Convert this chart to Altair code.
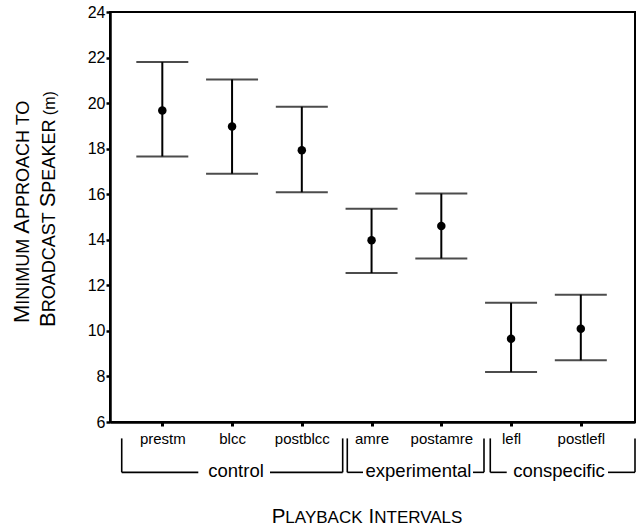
import altair as alt
import pandas as pd

# ---------------- data ----------------
categories = ["prestm", "blcc", "postblcc", "amre", "postamre", "lefl", "postlefl"]
means = [19.68, 18.97, 17.93, 13.98, 14.60, 9.65, 10.09]
upper = [21.80, 21.04, 19.84, 15.36, 16.03, 11.23, 11.59]
lower = [17.66, 16.90, 16.09, 12.54, 13.18, 8.19, 8.71]
y_ticks = [6, 8, 10, 12, 14, 16, 18, 20, 22, 24]

group_names = ["control", "experimental", "conspecific"]
group_label_pos = [1.057, 3.673, 5.687]
bracket_vert_x = [-0.582, 2.586, 2.652, 4.612, 4.702, 6.777]
bracket_seg_x1 = [-0.582, 1.544, 2.652, 4.454, 4.702, 6.390]
bracket_seg_x2 = [0.516, 2.586, 2.877, 4.612, 4.938, 6.777]
bracket_top = 5.28
bracket_bottom = 3.79
group_label_y = 3.57

FONT = "Liberation Sans"

df = pd.DataFrame({"idx": list(range(len(categories))), "cat": categories,
                   "mean": means, "lo": lower, "hi": upper})
df_v = pd.DataFrame({"bx": bracket_vert_x,
                     "btop": [bracket_top] * len(bracket_vert_x),
                     "bbot": [bracket_bottom] * len(bracket_vert_x)})
df_h = pd.DataFrame({"hx1": bracket_seg_x1, "hx2": bracket_seg_x2,
                     "hy": [bracket_bottom] * len(bracket_seg_x1)})
df_g = pd.DataFrame({"name": group_names, "gx": group_label_pos,
                     "gy": [group_label_y] * len(group_names)})

x_scale = alt.Scale(domain=[-0.750, 6.777], nice=False, zero=False)
y_scale = alt.Scale(domain=[6, 24], nice=False, zero=False)

label_expr = "[" + ",".join("'%s'" % c for c in categories) + "][datum.value]"

x_main = alt.X("idx:Q", scale=x_scale, title=None,
               axis=alt.Axis(values=list(range(len(categories))), labelExpr=label_expr,
                             title=None))
y_main = alt.Y("lo:Q", scale=y_scale, title=None,
               axis=alt.Axis(values=y_ticks, format="d", title=None))

base = alt.Chart(df)
bars = base.mark_rule(color="black", strokeWidth=2).encode(x=x_main, y=y_main, y2="hi:Q")
cap_hi = base.mark_tick(color="black", orient="horizontal", size=52, thickness=2).encode(
    x=alt.X("idx:Q", title=None), y=alt.Y("hi:Q", title=None))
cap_lo = base.mark_tick(color="black", orient="horizontal", size=52, thickness=2).encode(
    x=alt.X("idx:Q", title=None), y=alt.Y("lo:Q", title=None))
pts = base.mark_circle(color="black", size=72, opacity=1).encode(
    x=alt.X("idx:Q", title=None), y=alt.Y("mean:Q", title=None))

vert = alt.Chart(df_v).mark_rule(color="black", strokeWidth=1.6).encode(
    x=alt.X("bx:Q", title=None), y=alt.Y("btop:Q", title=None), y2="bbot:Q")
horiz = alt.Chart(df_h).mark_rule(color="black", strokeWidth=1.6).encode(
    x=alt.X("hx1:Q", title=None), x2="hx2:Q", y=alt.Y("hy:Q", title=None))
glabels = alt.Chart(df_g).mark_text(font=FONT, fontSize=18.5, align="center",
                                    baseline="alphabetic", color="black").encode(
    x=alt.X("gx:Q", title=None), y=alt.Y("gy:Q", title=None), text="name:N")

# ---------------- small-caps titles ----------------
AW = {"A": 667, "B": 667, "C": 722, "D": 722, "E": 667, "F": 611, "G": 778, "H": 722,
      "I": 278, "J": 500, "K": 667, "L": 556, "M": 833, "N": 722, "O": 778, "P": 667,
      "Q": 778, "R": 722, "S": 667, "T": 611, "U": 722, "V": 667, "W": 944, "X": 667,
      "Y": 667, "Z": 611, " ": 278, "(": 333, ")": 333, "m": 833}


def seg_width(s, fs):
    return sum(AW[c] for c in s) * fs / 1000.0


def small_caps(segments, start, fixed, vertical):
    layers = []
    pos = start
    for text, fs in segments:
        w = seg_width(text, fs)
        shown = text.strip()
        lead = seg_width(text[: len(text) - len(text.lstrip())], fs)
        if shown:
            if vertical:
                x, y, ang = fixed, pos - lead, 270
            else:
                x, y, ang = pos + lead, fixed, 0
            layers.append(
                alt.Chart(alt.Data(values=[{}])).mark_text(
                    font=FONT, fontSize=fs, align="left", baseline="alphabetic",
                    angle=ang, color="black").encode(
                    x=alt.value(x), y=alt.value(y), text=alt.value(shown)))
        pos = pos - w if vertical else pos + w
    return layers


BIG_Y, SMALL_Y = 22, 18
ytitle1 = small_caps([("M", BIG_Y), ("INIMUM ", SMALL_Y), ("A", BIG_Y), ("PPROACH TO", SMALL_Y)],
                     start=311, fixed=-81, vertical=True)
ytitle2 = small_caps([("B", BIG_Y), ("ROADCAST ", SMALL_Y), ("S", BIG_Y), ("PEAKER", SMALL_Y),
                      (" (m)", 16)], start=315, fixed=-55, vertical=True)
BIG_X, SMALL_X = 20.5, 17
xtitle = small_caps([("P", BIG_X), ("LAYBACK ", SMALL_X), ("I", BIG_X), ("NTERVALS", SMALL_X)],
                    start=161.7, fixed=511.3, vertical=False)

chart = alt.layer(bars, cap_hi, cap_lo, pts, vert, horiz, glabels,
                  *ytitle1, *ytitle2, *xtitle).properties(
    width=525, height=410,
    autosize=alt.AutoSizeParams(type="none"),
    padding={"left": 110, "top": 12, "right": 1, "bottom": 109},
    background="white",
).configure_view(stroke="black", strokeWidth=2).configure_axis(
    grid=False, domainColor="black", domainWidth=2.5, tickColor="black",
    labelColor="black", labelFont=FONT,
).configure_axisX(
    tickSize=4, tickWidth=3, labelFontSize=15, labelPadding=5, labelAngle=0,
).configure_axisY(
    tickSize=4, tickWidth=2.5, labelFontSize=16, labelPadding=1,
)

chart.save("out.html", embed_options={"renderer": "svg", "actions": False})
